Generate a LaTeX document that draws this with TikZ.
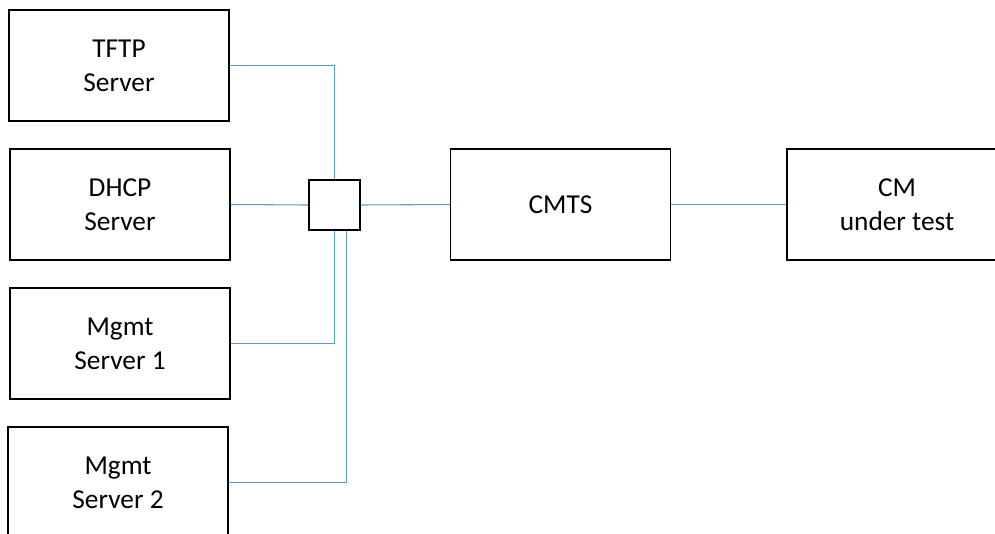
\documentclass[tikz,border=0pt]{standalone}
\usepackage{fontspec}
\setmainfont{Carlito}
\usetikzlibrary{calc}
\definecolor{linkblue}{RGB}{91,155,213}
\tikzset{
  box/.style={draw=black, line width=0.9pt, fill=white, minimum width=165pt, minimum height=83.25pt,
    align=center, inner sep=0pt, font=\fontsize{20.5}{25.5}\selectfont},
  hub/.style={draw=black, line width=1.1pt, fill=white, minimum width=38.25pt, minimum height=37.5pt, inner sep=0pt},
  link/.style={draw=linkblue, line width=0.8pt}
}
\begin{document}
\begin{tikzpicture}[x=0.75pt, y=-0.75pt]
\clip (0,0) rectangle (995,533);
\fill[white] (0,0) rectangle (995,533);
\node[box] (tftp) at (119,65.5) {TFTP\\Server};
\node[box] (dhcp) at (120,204.5) {DHCP\\Server};
\node[box] (mgmt1) at (120,343.5) {Mgmt\\Server 1};
\node[box] (mgmt2) at (118,482.5) {Mgmt\\Server 2};
\node[hub] (sq) at (334.5,205) {};
\node[box] (cmts) at (560.5,204.5) {CMTS};
\node[box] (cm) at (897,204.5) {CM\\under test};
\coordinate (sqb2) at ($(sq.south east)+(-14,0)$);
\draw[link] (tftp.east) -| (sq.north);
\draw[link] (dhcp.east) -- (sq.west);
\draw[link] (mgmt1.east) -| (sq.south);
\draw[link] (mgmt2.east) -| (sqb2);
\draw[link] (sq.east) -- (cmts.west);
\draw[link] (cmts.east) -- (cm.west);
\end{tikzpicture}
\end{document}
